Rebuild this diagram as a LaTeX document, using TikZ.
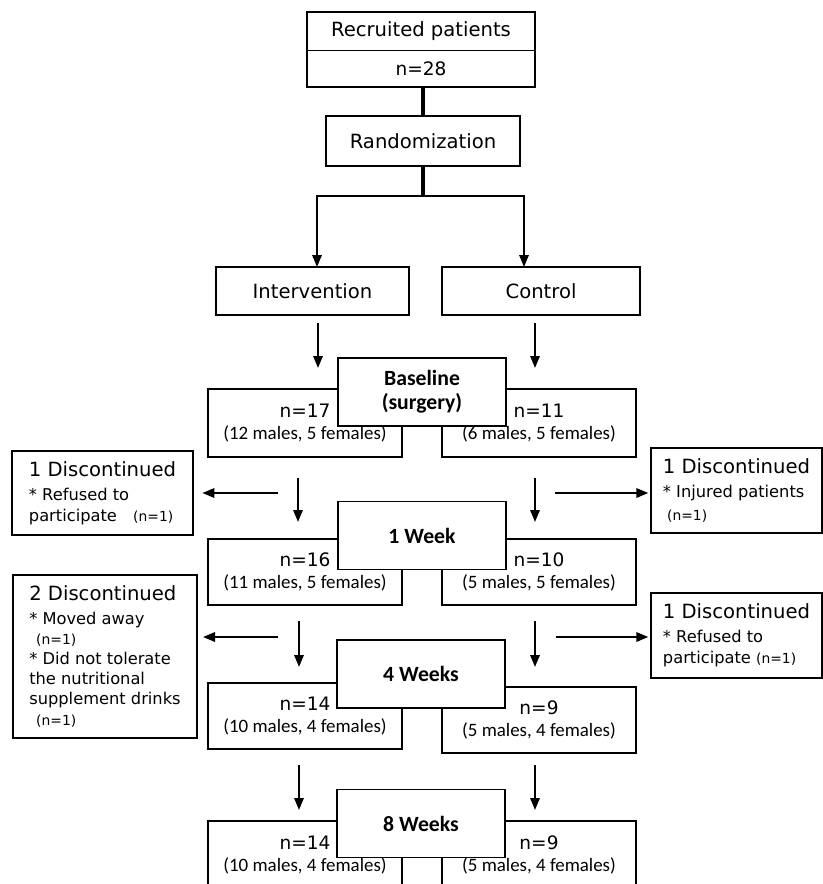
\documentclass[tikz,border=0pt]{standalone}
\usepackage{fontspec}
\setmainfont{DejaVu Sans}
\newfontfamily\calib{Carlito}
\usetikzlibrary{arrows.meta,positioning}
\newcommand{\sexes}[1]{{\calib\fontsize{14.2}{16}\selectfont(#1)}}
\newcommand{\reasonfont}{\fontsize{12.2}{14.4}\selectfont}
\newcommand{\countfont}{\fontsize{10.4}{14.4}\selectfont}

\begin{document}
\begin{tikzpicture}[
  x=0.75pt,y=0.75pt,
  base/.style={draw=black,line width=1.1pt,inner sep=0pt,outer sep=0pt,align=center},
  plain/.style={base,font=\fontsize{14.7}{17}\selectfont},
  group/.style={base,minimum width=145.5pt,minimum height=51pt,font=\fontsize{13.9}{17}\selectfont},
  stage/.style={base,fill=white,minimum width=126pt,minimum height=51pt,font=\calib\bfseries\fontsize{16.3}{18}\selectfont},
  drop/.style={base,align=left,font=\fontsize{14.7}{15}\selectfont},
  arr/.style={-{Triangle[length=9pt,width=7pt]},line width=1.6pt},
  stem/.style={line width=3pt}
]
\useasboundingbox (0,0) rectangle (823,-884);
\clip (0,0) rectangle (823,-884);

% enrolment and allocation
\node[plain,minimum width=171pt,minimum height=28.9pt] (recruit) at (421,-31.25) {Recruited patients};
\node[plain,minimum width=171pt,minimum height=27.4pt,below=0pt of recruit,font=\fontsize{13.9}{17}\selectfont] (recruitn) {n=28};
\node[plain,minimum width=145.5pt,minimum height=37.5pt] (random) at (423,-141) {Randomization};
\node[plain,minimum width=144.75pt,minimum height=36pt] (interv) at (312.5,-291) {Intervention};
\node[plain,minimum width=148.5pt,minimum height=36pt] (control) at (541,-291) {Control};

\coordinate (split) at (423,-196);
\coordinate (splitL) at (317,-196);
\coordinate (splitR) at (524,-196);
\draw[stem] (random.north) -- (random.north |- recruitn.south);
\draw[stem] (random.south) -- (split);
\draw[arr] (split) -| (splitL |- interv.north);
\draw[arr] (split) -| (splitR |- control.north);

% groups at each visit
\node[group] (int0) at (305,-423) {n=17\\\sexes{12 males, 5 females}};
\node[group] (ctl0) at (539,-423) {n=11\\\sexes{6 males, 5 females}};
\node[group,minimum height=49.5pt] (int1) at (305,-572) {n=16\\\sexes{11 males, 5 females}};
\node[group,minimum height=49.5pt] (ctl1) at (539,-572) {n=10\\\sexes{5 males, 5 females}};
\node[group,minimum height=49.5pt] (int4) at (305,-716) {n=14\\\sexes{10 males, 4 females}};
\node[group,minimum height=49.5pt] (ctl4) at (539,-720) {n=9\\\sexes{5 males, 4 females}};
\node[group] (int8) at (305,-855) {n=14\\\sexes{10 males, 4 females}};
\node[group] (ctl8) at (539,-855) {n=9\\\sexes{5 males, 4 females}};

\node[stage] (wk0) at (422,-392) {Baseline\\(surgery)};
\node[stage] (wk1) at (422,-535.5) {1 Week};
\node[stage] (wk4) at (421,-674) {4 Weeks};
\node[stage] (wk8) at (421,-823.5) {8 Weeks};

% drop-outs
\node[drop,minimum width=135.75pt,minimum height=63pt] (dropL1) at (102.5,-493)
  {1 Discontinued\\[3pt]\reasonfont * Refused to\\[1pt]\reasonfont participate\quad{\countfont(n=1)}};
\node[drop,minimum width=138pt,minimum height=122.25pt] (dropL4) at (105,-656.5)
  {2 Discontinued\\[3pt]\reasonfont * Moved away\\\countfont\hspace{0.5em}(n=1)\\\reasonfont * Did not tolerate\\\reasonfont the nutritional\\\reasonfont supplement drinks\\[1pt]\countfont\hspace{0.5em}(n=1)};
\node[drop,minimum width=128.25pt,minimum height=63.75pt] (dropR1) at (736.5,-490.5)
  {1 Discontinued\\[3pt]\reasonfont * Injured patients\\[2pt]\countfont\hspace{0.3em}(n=1)};
\node[drop,minimum width=128.25pt,minimum height=63.75pt] (dropR4) at (736.5,-635.5)
  {1 Discontinued\\[3pt]\reasonfont * Refused to\\[1pt]\reasonfont participate {\countfont(n=1)}};

\foreach \i/\xl/\ya/\yb in {0/318/323/368,1/298/478/522,4/299/621/667,8/299/765/810}{
  \coordinate (inL\i) at (\xl,-\ya);
  \coordinate (outL\i) at (\xl,-\yb);
  \coordinate (inR\i) at (535,-\ya);
  \coordinate (outR\i) at (535,-\yb);
  \draw[arr] (inL\i) -- (outL\i);
  \draw[arr] (inR\i) -- (outR\i);
}

\coordinate (sideL1) at (278,-493);
\coordinate (sideR1) at (555,-493);
\coordinate (sideL4) at (278,-637);
\coordinate (sideR4) at (556,-637);
\draw[arr,shorten >=7pt] (sideL1) -- (sideL1 -| dropL1.east);
\draw[arr,shorten >=4.5pt] (sideL4) -- (sideL4 -| dropL4.east);
\draw[arr,shorten >=2pt] (sideR1) -- (sideR1 -| dropR1.west);
\draw[arr,shorten >=2pt] (sideR4) -- (sideR4 -| dropR4.west);
\end{tikzpicture}
\end{document}
